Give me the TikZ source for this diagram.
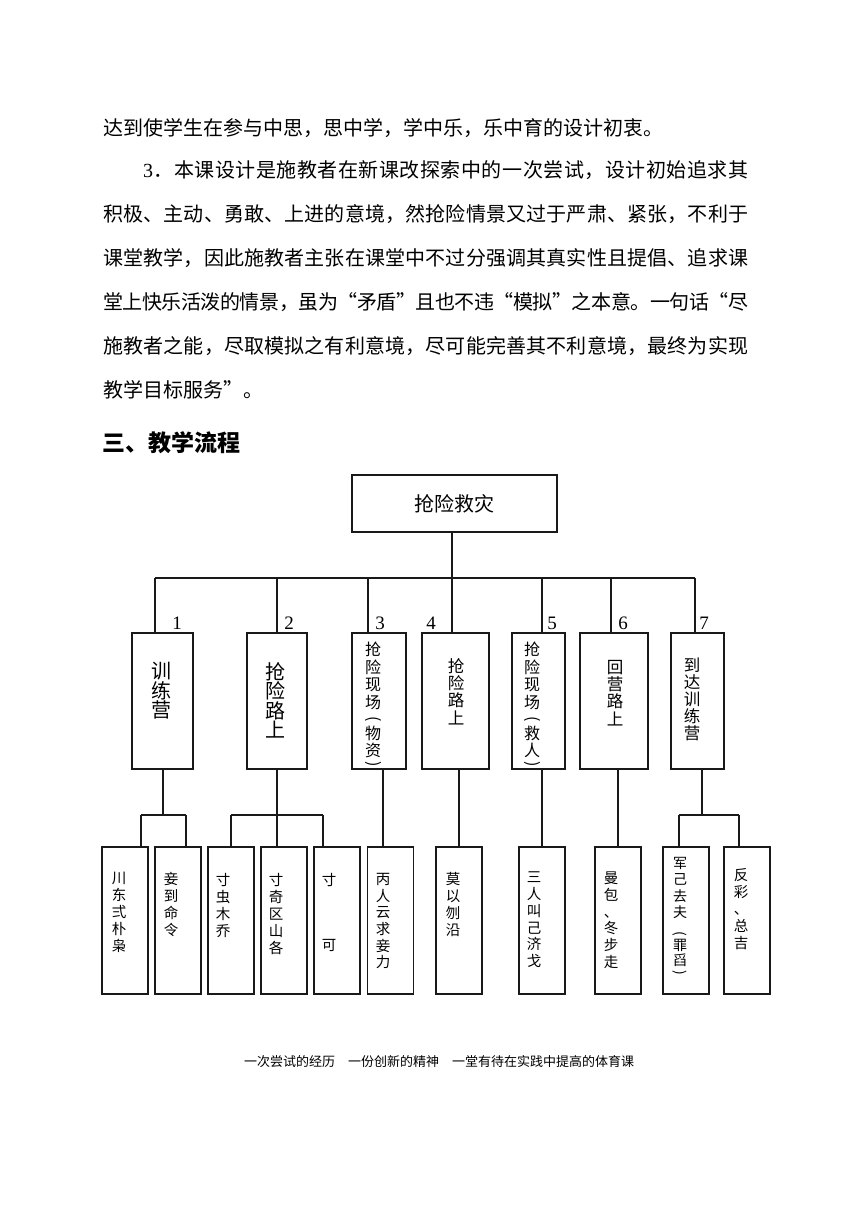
\documentclass[tikz,border=0pt]{standalone}
\usepackage{fontspec}
\usepackage{graphicx}
\setmainfont{Noto Sans CJK SC}
\newfontfamily\serifnum{Liberation Serif}
\makeatletter
\newcommand{\jline}[2]{\hbox to #1{\@tfor\jch:=#2\do{\jch\hskip 0pt plus 1fil minus 1.5pt}\unskip}}
\makeatother
\newcommand{\numthree}{{\serifnum 3}}
\newcommand{\fs}[2]{\fontsize{#1}{#2}\selectfont}
\newcommand{\vlp}{\smash{\rotatebox[origin=c]{-90}{(}}}
\newcommand{\vrp}{\smash{\rotatebox[origin=c]{-90}{)}}}
\begin{document}
\begin{tikzpicture}[x=1pt,y=-1pt,
  box/.style={draw=black!90, line width=1.1pt, inner sep=0, rectangle},
  link/.style={draw=black!90, line width=1.1pt},
  vtext/.style={align=center, inner sep=0, anchor=north, text=black},
  ptext/.style={anchor=west, inner sep=0, font=\fs{20}{20}},
  num/.style={inner sep=0, font=\serifnum\fs{19}{19}}]
\useasboundingbox[fill=white] (0,0) rectangle (860,1216);

% ---------- paragraph ----------
\node[ptext] (p1) at (103,128) {达到使学生在参与中思，思中学，学中乐，乐中育的设计初衷。};
\node[ptext] (p2) at (143,170) {\jline{605pt}{\numthree．本课设计是施教者在新课改探索中的一次尝试，设计初始追求其}};
\node[ptext] (p3) at (103,214) {\jline{645pt}{积极、主动、勇敢、上进的意境，然抢险情景又过于严肃、紧张，不利于}};
\node[ptext] (p4) at (103,258) {\jline{645pt}{课堂教学，因此施教者主张在课堂中不过分强调其真实性且提倡、追求课}};
\node[ptext] (p5) at (103,302) {\jline{645pt}{堂上快乐活泼的情景，虽为“矛盾”且也不违“模拟”之本意。一句话“尽}};
\node[ptext] (p6) at (103,346) {\jline{645pt}{施教者之能，尽取模拟之有利意境，尽可能完善其不利意境，最终为实现}};
\node[ptext] (p7) at (103,390) {教学目标服务”。};
\node[anchor=west, inner sep=0, font=\fs{23}{23}\bfseries] (head) at (102,443) {三、教学流程};

% ---------- top box ----------
\node[box, minimum width=205, minimum height=57] (top) at (454.5,503.5) {\fs{20}{20}抢险救灾};

% ---------- level 1 boxes ----------
\node[box, minimum width=61, minimum height=136] (b1) at (162.5,701) {};
\node[box, minimum width=60, minimum height=136] (b2) at (277,701) {};
\node[box, minimum width=54, minimum height=136] (b3) at (379,701) {};
\node[box, minimum width=67, minimum height=136] (b4) at (455.5,701) {};
\node[box, minimum width=53, minimum height=136] (b5) at (538.5,701) {};
\node[box, minimum width=68, minimum height=136] (b6) at (614,701) {};
\node[box, minimum width=53, minimum height=136] (b7) at (697.5,701) {};

\node[vtext, font=\fs{20}{19.5}] (t1) at (161,662) {训\\练\\营};
\node[vtext, font=\fs{20}{19.5}] (t2) at (275,662) {抢\\险\\路\\上};
\node[vtext, font=\fs{16}{17.5}] (t3) at (373,642) {抢\\险\\现\\场\\[-1.5pt]\vlp\\[-2.5pt]物\\资\\[-5.5pt]\vrp};
\node[vtext, font=\fs{16.5}{17.3}] (t4) at (456,658) {抢\\险\\路\\上};
\node[vtext, font=\fs{16}{17.5}] (t5) at (532,642) {抢\\险\\现\\场\\[-1.5pt]\vlp\\[-2.5pt]救\\人\\[-5.5pt]\vrp};
\node[vtext, font=\fs{16.5}{17.3}] (t6) at (615,660) {回\\营\\路\\上};
\node[vtext, font=\fs{16.5}{17}] (t7) at (692,658) {到\\达\\训\\练\\营};

\node[num] (n1) at (177,623) {1};
\node[num] (n2) at (289,623) {2};
\node[num] (n3) at (380,623) {3};
\node[num] (n4) at (431,623) {4};
\node[num] (n5) at (552,623) {5};
\node[num] (n6) at (623,623) {6};
\node[num] (n7) at (704,623) {7};

% ---------- level 2 boxes ----------
\foreach \n/\x in {c1/125, c2/178, c3/231, c4/284, c5/337, c6/390.5, c7/459, c8/542, c9/618, c10/686, c11/747}
  \node[box, minimum width=46, minimum height=147] (\n) at (\x,920.5) {};

\node[vtext, font=\fs{14.5}{17}] (s1) at (119,872) {川\\东\\弍\\朴\\枭};
\node[vtext, font=\fs{14.5}{17}] (s2) at (171,872) {妾\\到\\命\\令};
\node[vtext, font=\fs{14.5}{17}] (s3) at (223,873) {寸\\虫\\木\\乔};
\node[vtext, font=\fs{14.5}{17}] (s4) at (276,873) {寸\\奇\\区\\山\\各};
\node[vtext, font=\fs{14.5}{17}] (s5) at (329,873) {寸\\[48pt]可};
\node[vtext, font=\fs{14.5}{16.7}] (s6) at (383,873) {丙\\人\\云\\求\\妾\\力};
\node[vtext, font=\fs{14.5}{17}] (s7) at (453,872) {莫\\以\\刎\\沿};
\node[vtext, font=\fs{14.5}{16.7}] (s8) at (534,872) {三\\人\\叫\\己\\济\\戈};
\node[vtext, font=\fs{14.5}{16.7}] (s9) at (611,872) {曼\\包\\、\\冬\\步\\走};
\node[vtext, font=\fs{14}{16.5}] (s10) at (680,857) {军\\己\\去\\夫\\[3.5pt]\vlp\\[-3.5pt]罪\\[-1.5pt]舀\\[-5pt]\vrp};
\node[vtext, font=\fs{14.5}{17}] (s11) at (741,868) {反\\彩\\、\\总\\吉};

% ---------- connectors level 0 -> 1 ----------
\coordinate (trunk) at (452,578);
\coordinate (d1) at (155,578);
\coordinate (d2) at (277,578);
\coordinate (d3) at (368,578);
\coordinate (d4) at (452,578);
\coordinate (d5) at (542,578);
\coordinate (d6) at (611,578);
\coordinate (d7) at (695,578);
\draw[link] (trunk |- top.south) -- (trunk);
\draw[link] (d1) -- (d7);
\foreach \i in {1,...,7} \draw[link] (d\i) -- (d\i |- b\i.north);

% ---------- connectors level 1 -> 2 ----------
\coordinate (u1) at (163,815);
\coordinate (u2) at (277,815);
\coordinate (u7) at (702,815);
\coordinate (e1) at (141,815);
\coordinate (e2) at (186,815);
\coordinate (e3) at (231,815);
\coordinate (e4) at (277,815);
\coordinate (e5) at (323,815);
\coordinate (e10) at (679,815);
\coordinate (e11) at (739,815);
\draw[link] (u1 |- b1.south) -- (u1);
\draw[link] (u2 |- b2.south) -- (u2);
\draw[link] (u7 |- b7.south) -- (u7);
\draw[link] (e1) -- (e2);
\draw[link] (e3) -- (e5);
\draw[link] (e10) -- (e11);
\draw[link] (e1) -- (e1 |- c1.north);
\draw[link] (e2) -- (e2 |- c2.north);
\draw[link] (e3) -- (e3 |- c3.north);
\draw[link] (e4) -- (e4 |- c4.north);
\draw[link] (e5) -- (e5 |- c5.north);
\draw[link] (e10) -- (e10 |- c10.north);
\draw[link] (e11) -- (e11 |- c11.north);
\coordinate (v3) at (383,0);
\coordinate (v4) at (459,0);
\coordinate (v5) at (542,0);
\coordinate (v6) at (618,0);
\draw[link] (v3 |- b3.south) -- (v3 |- c6.north);
\draw[link] (v4 |- b4.south) -- (v4 |- c7.north);
\draw[link] (v5 |- b5.south) -- (v5 |- c8.north);
\draw[link] (v6 |- b6.south) -- (v6 |- c9.north);

% ---------- footer ----------
\node[inner sep=0, font=\fs{13}{13}] (foot) at (439,1062) {一次尝试的经历　一份创新的精神　一堂有待在实践中提高的体育课};
\end{tikzpicture}
\end{document}
